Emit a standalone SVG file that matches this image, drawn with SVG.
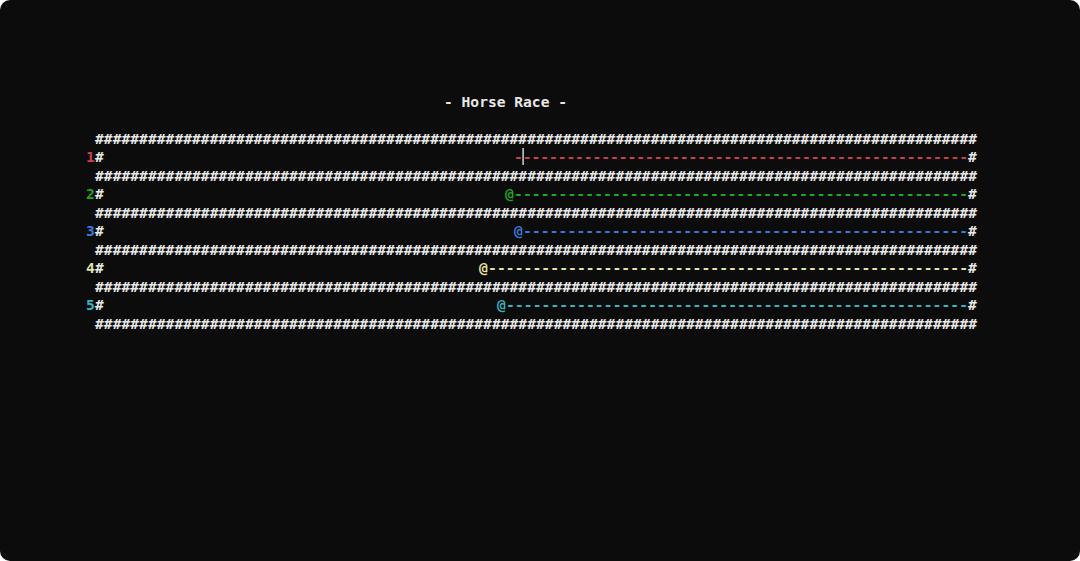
<svg xmlns="http://www.w3.org/2000/svg" width="1080" height="561" viewBox="0 0 1080 561">
<style>
text{font-family:"DejaVu Sans Mono","Liberation Mono",monospace;font-size:14.6px;fill:#e8e8e8;font-weight:bold}
.r{fill:#c8424e}.g{fill:#1ea81e}.b{fill:#3b78d8}.y{fill:#e4e4a8}.c{fill:#3ab4bc}
</style>
<rect x="0" y="0" width="1080" height="561" rx="10" fill="#0c0c0c"/>
<text x="444" y="107" textLength="123">- Horse Race -</text>
<g id="walls">
<text x="95" y="144" textLength="882">####################################################################################################</text>
<text x="95" y="181" textLength="882">####################################################################################################</text>
<text x="95" y="218" textLength="882">####################################################################################################</text>
<text x="95" y="255" textLength="882">####################################################################################################</text>
<text x="95" y="292" textLength="882">####################################################################################################</text>
<text x="95" y="329" textLength="882">####################################################################################################</text>
</g>
<g id="lane1"><text x="86" y="162" class="r">1</text><text x="95" y="162">#</text><text x="514" y="162" class="r" textLength="454">----------------------------------------------------</text><text x="968" y="162">#</text><rect x="522.5" y="148" width="1.2" height="17" fill="#ffffff"/></g>
<g id="lane2"><text x="86" y="199" class="g">2</text><text x="95" y="199">#</text><text x="505" y="199" class="g">@</text><text x="514" y="199" class="g" textLength="454">---------------------------------------------------</text><text x="968" y="199">#</text></g>
<g id="lane3"><text x="86" y="236" class="b">3</text><text x="95" y="236">#</text><text x="514" y="236" class="b">@</text><text x="523" y="236" class="b" textLength="445">--------------------------------------------------</text><text x="968" y="236">#</text></g>
<g id="lane4"><text x="86" y="273" class="y">4</text><text x="95" y="273">#</text><text x="479" y="273" class="y">@</text><text x="488" y="273" class="y" textLength="480">------------------------------------------------------</text><text x="968" y="273">#</text></g>
<g id="lane5"><text x="86" y="310" class="c">5</text><text x="95" y="310">#</text><text x="497" y="310" class="c">@</text><text x="506" y="310" class="c" textLength="462">----------------------------------------------------</text><text x="968" y="310">#</text></g>
</svg>
